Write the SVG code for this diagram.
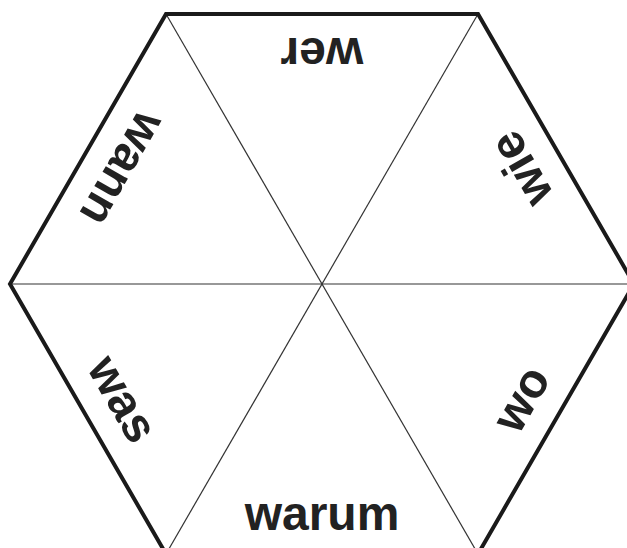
<svg xmlns="http://www.w3.org/2000/svg" width="627" height="548" viewBox="0 0 627 548">
<style>
.edge{fill:none;stroke:#1a1a1a;stroke-width:4;stroke-linejoin:miter}
.spoke{fill:none;stroke:#333;stroke-width:1.2}
.lbl{font-family:"Liberation Sans",Arial,sans-serif;font-weight:bold;font-size:48px;fill:#222;text-anchor:middle}
</style>
<rect width="627" height="548" fill="#fff"/>
<g id="connectors">
<line class="spoke" x1="10" y1="284" x2="634" y2="284"/>
<line class="spoke" x1="166" y1="14" x2="478" y2="554"/>
<line class="spoke" x1="478" y1="14" x2="166" y2="554"/>
</g>
<g id="hexagon">
<polygon class="edge" points="166,14 478,14 634,284 478,554 166,554 10,284"/>
</g>
<g id="label-warum" transform="translate(322,284) rotate(0)"><text class="lbl" x="0" y="246">warum</text></g>
<g id="label-wo" transform="translate(322,284) rotate(-60)"><text class="lbl" x="0" y="246">wo</text></g>
<g id="label-wie" transform="translate(322,284) rotate(-120)"><text class="lbl" x="0" y="246">wie</text></g>
<g id="label-wer" transform="translate(322,284) rotate(180)"><text class="lbl" x="0" y="246">wer</text></g>
<g id="label-wann" transform="translate(322,284) rotate(120)"><text class="lbl" x="0" y="246">wann</text></g>
<g id="label-was" transform="translate(322,284) rotate(60)"><text class="lbl" x="0" y="246">was</text></g>
</svg>
